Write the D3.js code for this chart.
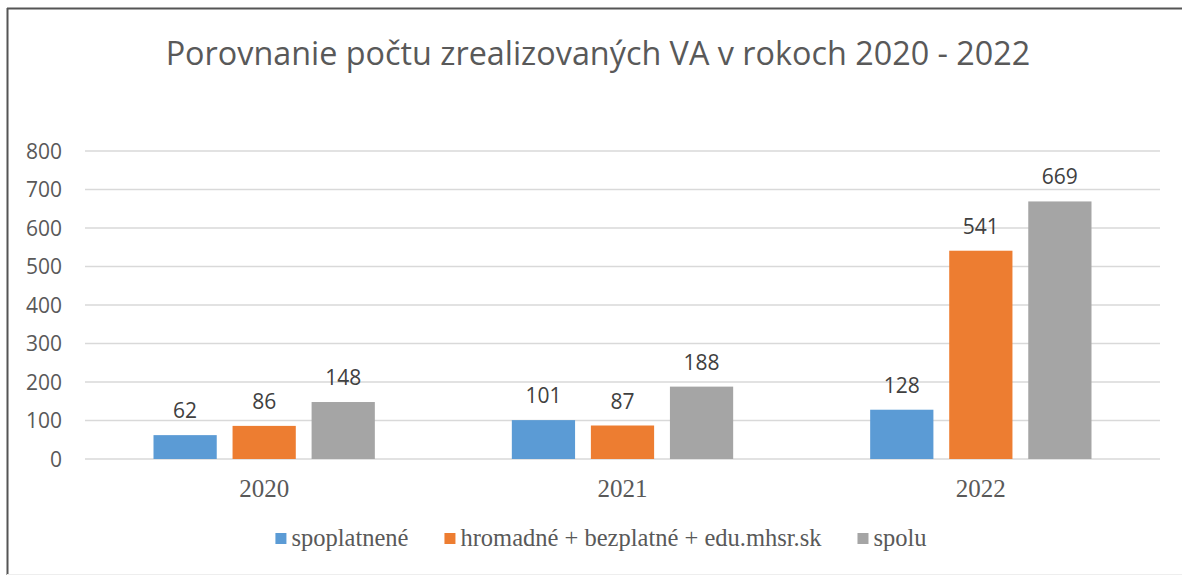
<!DOCTYPE html>
<meta charset="utf-8">
<style>
body { margin: 0; background: #fff; }
text { font-family: "Open Sans", sans-serif; }
.serif { font-family: "Liberation Serif", "Times New Roman", serif; }
</style>
<svg width="1182" height="575"></svg>
<script src="https://cdn.jsdelivr.net/npm/d3@7"></script>
<script>

// data
var years = ["2020", "2021", "2022"];
var series = ["spoplatnené", "hromadné + bezplatné + edu.mhsr.sk", "spolu"];
var spoplatnene = [62, 101, 128];
var hromadne = [86, 87, 541];
var spolu = [148, 188, 669];
var yTicks = [0, 100, 200, 300, 400, 500, 600, 700, 800];
var colors = ["#5B9BD5", "#ED7D31", "#A5A5A5"];

var values = [spoplatnene, hromadne, spolu];

var svg = d3.select("svg"),
    width = +svg.attr("width"),
    height = +svg.attr("height");

// chart frame (only top, left, bottom edges visible)
svg.append("line").attr("x1", 7).attr("x2", width).attr("y1", 8.5).attr("y2", 8.5)
    .attr("stroke", "#555").attr("stroke-width", 2);
svg.append("line").attr("x1", 7.5).attr("x2", 7.5).attr("y1", 8).attr("y2", 575)
    .attr("stroke", "#555").attr("stroke-width", 2);
svg.append("line").attr("x1", 7).attr("x2", width).attr("y1", 574.5).attr("y2", 574.5)
    .attr("stroke", "#eee").attr("stroke-width", 1);

var plotLeft = 85, plotRight = 1160, plotTop = 151, plotBottom = 459;

var y = d3.scaleLinear().domain([0, 800]).range([plotBottom, plotTop]);
var x0 = d3.scaleBand().domain(years).range([plotLeft, plotRight]);
var x1 = d3.scaleBand().domain(d3.range(series.length))
    .range([68.5, x0.bandwidth() - 68.5]).paddingInner(0.2);

// title
var title = svg.append("text")
    .attr("x", 598).attr("y", 65)
    .attr("text-anchor", "middle")
    .attr("fill", "#595959")
    .style("font-size", "31px")
    .text("Porovnanie počtu zrealizovaných VA v rokoch 2020 - 2022");
var tw = title.node().getComputedTextLength();
title.style("font-size", (31 * 865 / tw) + "px");

// gridlines + y axis labels
var grid = svg.append("g").attr("class", "grid");
grid.selectAll("line").data(yTicks).enter().append("line")
    .attr("x1", plotLeft).attr("x2", plotRight)
    .attr("y1", function(d) { return y(d); })
    .attr("y2", function(d) { return y(d); })
    .attr("stroke", "#D9D9D9").attr("stroke-width", 1.5);

svg.append("g").selectAll("text").data(yTicks).enter().append("text")
    .attr("x", 62)
    .attr("y", function(d) { return y(d) + 7.5; })
    .attr("text-anchor", "end")
    .attr("fill", "#595959")
    .style("font-size", "21px")
    .text(function(d) { return d; });

// bars
var groups = svg.append("g").selectAll("g").data(years).enter().append("g")
    .attr("transform", function(d) { return "translate(" + x0(d) + ",0)"; });

groups.selectAll("rect")
    .data(function(d, i) { return values.map(function(v, s) { return {s: s, v: v[i]}; }); })
    .enter().append("rect")
    .attr("x", function(d) { return x1(d.s); })
    .attr("width", x1.bandwidth())
    .attr("y", function(d) { return y(d.v); })
    .attr("height", function(d) { return y(0) - y(d.v); })
    .attr("fill", function(d) { return colors[d.s]; });

groups.selectAll("text.lbl")
    .data(function(d, i) { return values.map(function(v, s) { return {s: s, v: v[i]}; }); })
    .enter().append("text")
    .attr("class", "lbl")
    .attr("x", function(d) { return x1(d.s) + x1.bandwidth() / 2; })
    .attr("y", function(d) { return y(d.v) - 17; })
    .attr("text-anchor", "middle")
    .attr("fill", "#404040")
    .style("font-size", "21px")
    .text(function(d) { return d.v; });

// x axis labels
svg.append("g").selectAll("text").data(years).enter().append("text")
    .attr("class", "serif")
    .attr("x", function(d) { return x0(d) + x0.bandwidth() / 2; })
    .attr("y", 497)
    .attr("text-anchor", "middle")
    .attr("fill", "#595959")
    .style("font-size", "25px")
    .text(function(d) { return d; });

// legend
var legend = svg.append("g");
var items = legend.selectAll("g").data(series).enter().append("g");
items.append("rect")
    .attr("width", 11).attr("height", 11).attr("y", 533)
    .attr("fill", function(d, i) { return colors[i]; });
items.append("text")
    .attr("class", "serif")
    .attr("x", 16).attr("y", 546)
    .attr("fill", "#595959")
    .style("font-size", "24.5px")
    .text(function(d) { return d; });

var widths = [];
items.each(function() { widths.push(this.querySelector("text").getComputedTextLength() + 16); });
var gap = 36;
var total = d3.sum(widths) + gap * (widths.length - 1);
var pos = 601 - total / 2;
items.attr("transform", function(d, i) {
  var p = pos;
  pos += widths[i] + gap;
  return "translate(" + p + ",0)";
});

</script>
